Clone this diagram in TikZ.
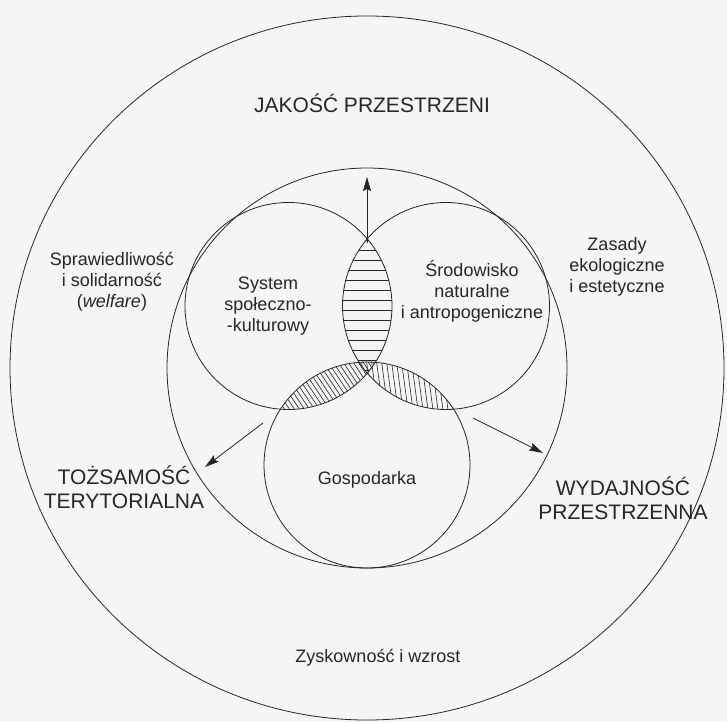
\documentclass[tikz,border=0pt]{standalone}
\usepackage{fontspec}
\setmainfont{Liberation Sans}
\usetikzlibrary{arrows.meta,shapes.geometric}
\tikzset{txt/.style={align=center,inner sep=0pt,font=\fontsize{18}{21}\selectfont},
    bigtxt/.style={align=center,inner sep=0pt,font=\fontsize{21}{24}\selectfont},
    ring/.style={circle,draw,inner sep=0pt,line width=0.8pt},
    arr/.style={line width=0.8pt,-{Stealth[length=14pt,width=8pt,inset=2pt]}},
    hatch/.style={line width=0.6pt}}

\begin{document}
\begin{tikzpicture}[x=1pt,y=-1pt,color=black!85]
    \useasboundingbox[fill=black!4] (0,0) rectangle (727,722);
        \node[draw,ellipse,line width=0.8pt,minimum width=714pt,minimum height=704pt,inner sep=0pt] (outer) at (367,368) {};
        \node[ring,minimum size=400pt] (mid) at (367,368) {};
        \node[ring,minimum size=207pt] (soc) at (288.5,306) {};
        \node[ring,minimum size=207pt] (env) at (446,306) {};
        \node[ring,minimum size=206pt] (eco) at (367,465) {};
        \begin{scope}
            \clip (288.5,306) circle[radius=103.5];
            \clip (446,306) circle[radius=103.5];
            \foreach \y in {240,250,...,380}
                \draw[hatch] (330,\y) -- (405,\y);
        \end{scope}
        \begin{scope}
            \clip (288.5,306) circle[radius=103.5];
            \clip (367,465) circle[radius=103];
            \foreach \x in {200,205,...,380}
                \draw[hatch] (\x,350) -- ++(50,75);
        \end{scope}
        \begin{scope}
            \clip (446,306) circle[radius=103.5];
            \clip (367,465) circle[radius=103];
            \foreach \x in {340,345,...,470}
                \draw[hatch] (\x,350) -- ++(10,75);
        \end{scope}
        \node[bigtxt] (jakosc) at (372,103) {JAKOŚĆ PRZESTRZENI};
        \node[txt] (spraw) at (112,282) {Sprawiedliwość\\i solidarność\\(\textit{welfare})};
        \node[txt] (zasady) at (617,267) {Zasady\\ekologiczne\\i estetyczne};
        \node[txt] (system) at (268,306) {System\\społeczno-\\-kulturowy};
        \node[txt] (srod) at (472,291) {Środowisko\\naturalne\\i antropogeniczne};
        \node[txt] (gosp) at (367,480) {Gospodarka};
        \node[txt] (zysk) at (378,658) {Zyskowność i wzrost};
        \node[bigtxt] (tozs) at (124,487) {TOŻSAMOŚĆ\\TERYTORIALNA};
        \node[bigtxt] (wydaj) at (623,498) {WYDAJNOŚĆ\\PRZESTRZENNA};
        \coordinate (upS) at (367,243);
        \coordinate (upE) at (367,177);
        \coordinate (leftS) at (263,423);
        \coordinate (leftE) at (205,467);
        \coordinate (rightS) at (473,418);
        \coordinate (rightE) at (543,453);
        \draw[arr] (upS) -- (upE);
        \draw[arr] (leftS) -- (leftE);
        \draw[arr] (rightS) -- (rightE);
    \end{tikzpicture}
\end{document}
